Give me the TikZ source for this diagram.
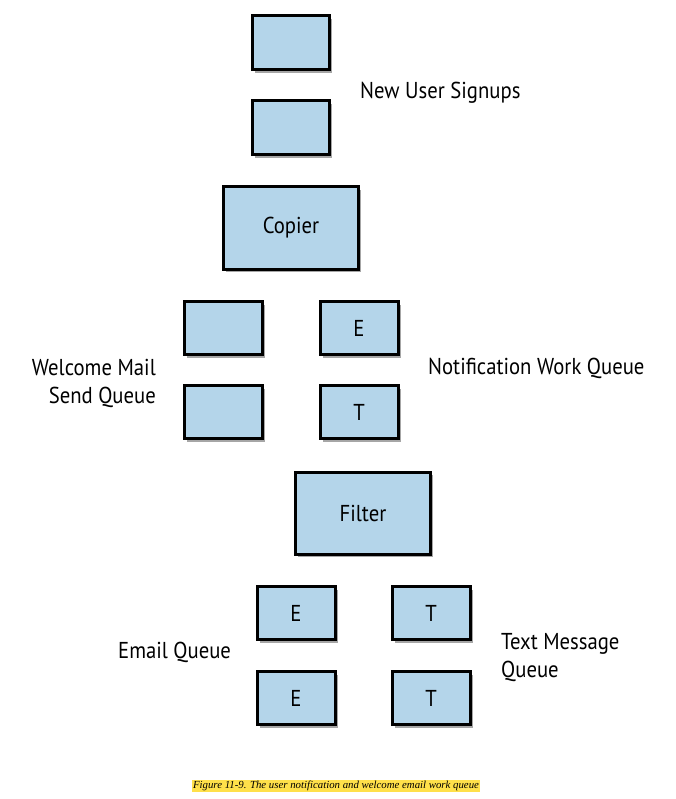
\documentclass[tikz,border=0pt]{standalone}
\usepackage{fontspec}
\setmainfont{PT Sans}[FakeStretch=0.9]
\newfontfamily\capfont{Liberation Serif}
\usetikzlibrary{shadows}
\definecolor{boxblue}{HTML}{B4D5EA}
\definecolor{hl}{HTML}{FFE04A}
\tikzset{
  qbox/.style={draw=black, line width=3pt, fill=boxblue, inner sep=0pt,
    drop shadow={shadow xshift=2.5pt, shadow yshift=-3pt, fill=black, opacity=0.35},
    font=\fontsize{23}{25}\selectfont},
  lbl/.style={font=\fontsize{23}{28}\selectfont, inner sep=0pt}
}
\begin{document}
\begin{tikzpicture}[x=1pt,y=-1pt]
\useasboundingbox (0,0) rectangle (676,799);
% New user signups
\node[qbox, minimum width=77pt, minimum height=54pt] (s1) at (291,43) {};
\node[qbox, minimum width=77pt, minimum height=54pt] (s2) at (291,128) {};
\node[lbl, anchor=west] (nus) at (360,93) {New User Signups};
% Copier
\node[qbox, minimum width=135pt, minimum height=82pt] (copier) at (291,228) {Copier};
% Welcome mail queue
\node[qbox, minimum width=78pt, minimum height=53pt] (w1) at (223,328) {};
\node[qbox, minimum width=78pt, minimum height=53pt] (w2) at (223,412) {};
\node[lbl, anchor=east, align=right] (wml) at (156,383) {Welcome Mail\\Send Queue};
% Notification work queue
\node[qbox, minimum width=78pt, minimum height=53pt] (n1) at (359,328) {E};
\node[qbox, minimum width=78pt, minimum height=53pt] (n2) at (359,412) {T};
\node[lbl, anchor=west] (nwq) at (428,368) {Notification Work Queue};
% Filter
\node[qbox, minimum width=135pt, minimum height=82pt] (filter) at (363,513) {Filter};
% Email queue
\node[qbox, minimum width=78pt, minimum height=53pt] (e1) at (296,613) {E};
\node[qbox, minimum width=78pt, minimum height=53pt] (e2) at (296,698) {E};
\node[lbl, anchor=west] (eq) at (118,652) {Email Queue};
% Text message queue
\node[qbox, minimum width=78pt, minimum height=53pt] (t1) at (431,613) {T};
\node[qbox, minimum width=78pt, minimum height=53pt] (t2) at (431,698) {T};
\node[lbl, anchor=west, align=left] (tmq) at (501,658) {Text Message\\Queue};
% caption
\node[fill=hl, inner xsep=1pt, inner ysep=1.5pt, font=\capfont\itshape\fontsize{10.8}{12}\selectfont] (cap) at (336,786) {Figure 11-9. The user notification and welcome email work queue};
\end{tikzpicture}
\end{document}
